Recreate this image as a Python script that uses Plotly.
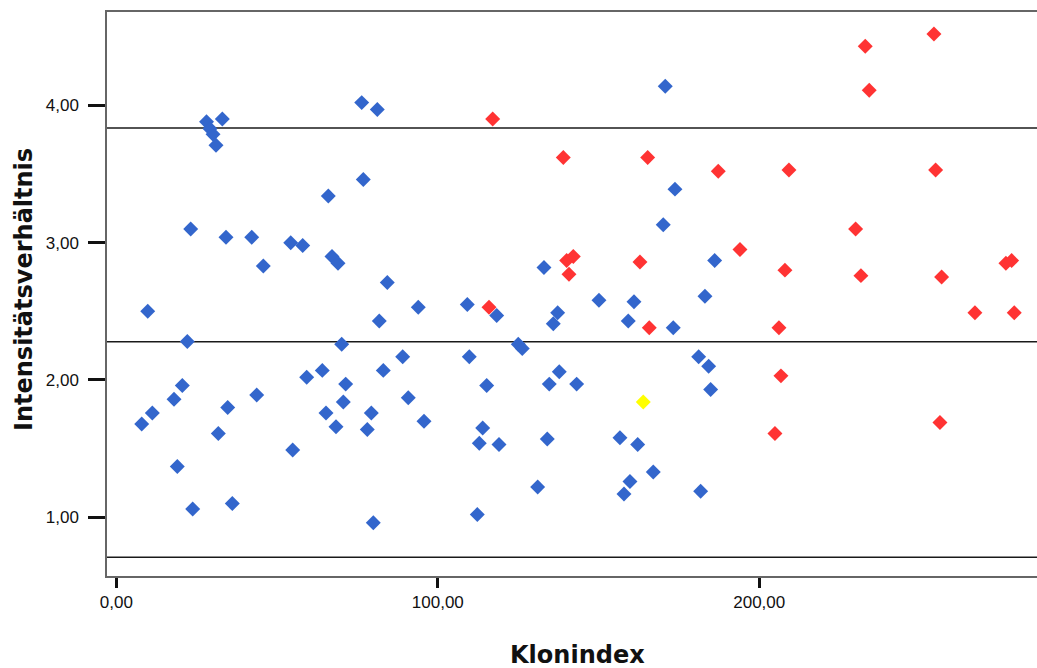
import plotly.graph_objects as go

# Klonindex / Intensitätsverhältnis per clone group
blue_x = [9.77, 22.08, 7.90, 11.20, 17.95, 20.53, 18.97, 23.76, 23.14, 28.06,
          29.14, 30.08, 31.01, 32.97, 31.73, 34.12, 34.65, 36.08, 42.12, 43.67,
          45.72, 54.25, 57.98, 54.87, 59.22, 64.07, 65.94, 65.23, 67.09, 68.96,
          68.34, 70.11, 70.61, 71.35, 76.33, 76.83, 78.07, 79.32, 79.94, 81.18,
          81.80, 83.05, 84.29, 89.08, 90.82, 93.93, 95.71, 109.18, 109.80, 118.32,
          115.21, 113.97, 112.91, 119.04, 112.29, 125.04, 126.28, 131.07, 133.03, 134.06,
          134.68, 135.93, 137.29, 137.79, 143.20, 150.14, 156.67, 157.92, 159.78, 159.25,
          161.03, 162.18, 167.03, 170.14, 170.76, 173.25, 173.78, 181.15, 181.77, 183.11,
          184.26, 184.88, 186.13]
blue_y = [2.50, 2.28, 1.68, 1.76, 1.86, 1.96, 1.37, 1.06, 3.10, 3.88,
          3.83, 3.79, 3.71, 3.90, 1.61, 3.04, 1.80, 1.10, 3.04, 1.89,
          2.83, 3.00, 2.98, 1.49, 2.02, 2.07, 3.34, 1.76, 2.90, 2.85,
          1.66, 2.26, 1.84, 1.97, 4.02, 3.46, 1.64, 1.76, 0.96, 3.97,
          2.43, 2.07, 2.71, 2.17, 1.87, 2.53, 1.70, 2.55, 2.17, 2.47,
          1.96, 1.65, 1.54, 1.53, 1.02, 2.26, 2.23, 1.22, 2.82, 1.57,
          1.97, 2.41, 2.49, 2.06, 1.97, 2.58, 1.58, 1.17, 1.26, 2.43,
          2.57, 1.53, 1.33, 3.13, 4.14, 2.38, 3.39, 2.17, 1.19, 2.61,
          2.10, 1.93, 2.87]

red_x = [117.08, 115.93, 139.04, 140.09, 142.15, 140.81, 165.29, 162.89, 165.79, 187.25,
         194.00, 206.13, 204.88, 206.75, 207.99, 209.24, 229.98, 231.63, 232.97, 234.21,
         254.34, 254.87, 256.21, 256.73, 267.09, 276.73, 278.51, 279.32]
red_y = [3.90, 2.53, 3.62, 2.87, 2.90, 2.77, 3.62, 2.86, 2.38, 3.52,
         2.95, 2.38, 1.61, 2.03, 2.80, 3.53, 3.10, 2.76, 4.43, 4.11,
         4.52, 3.53, 1.69, 2.75, 2.49, 2.85, 2.87, 2.49]

yellow_x = [163.92]
yellow_y = [1.84]

# Reference levels (upper bound, mean, lower bound)
ref_levels = [3.835, 2.279, 0.709]

x_ticks = [0, 100, 200]
y_ticks = [1, 2, 3, 4]

marker_common = dict(symbol="diamond", size=11.5, line=dict(width=0))

fig = go.Figure()
fig.add_trace(go.Scatter(x=blue_x, y=blue_y, mode="markers",
                         marker=dict(color="#3366CC", **marker_common)))
fig.add_trace(go.Scatter(x=red_x, y=red_y, mode="markers",
                         marker=dict(color="#FF3333", **marker_common)))
fig.add_trace(go.Scatter(x=yellow_x, y=yellow_y, mode="markers",
                         marker=dict(color="#FFFF00", **marker_common)))

for lvl in ref_levels:
    fig.add_shape(type="line", xref="paper", x0=0, x1=1, yref="y", y0=lvl, y1=lvl,
                  line=dict(color="#1a1a1a", width=1.6), layer="below")

tick_font = dict(family="Liberation Sans, Arial, sans-serif", size=17, color="#111")
title_font = dict(family="DejaVu Sans, Verdana, sans-serif", size=24, color="#111")

fig.update_layout(
    width=1037, height=668,
    margin=dict(l=107, r=0, t=12, b=92),
    paper_bgcolor="white", plot_bgcolor="white",
    showlegend=False,
    separators=",.",
    xaxis=dict(range=[-2.9, 286.4], tickvals=x_ticks, tickformat=".2f",
               showgrid=False, zeroline=False,
               showline=True, mirror=True, linecolor="#666", linewidth=1.5,
               ticks="outside", ticklen=10, tickwidth=3, tickcolor="#111",
               tickfont=tick_font),
    yaxis=dict(range=[0.5725, 4.68], tickvals=y_ticks, tickformat=".2f",
               showgrid=False, zeroline=False,
               showline=True, mirror=False, linecolor="#666", linewidth=1.5,
               ticks="outside", ticklen=17, tickwidth=3, tickcolor="#111",
               ticklabelstandoff=6,
               tickfont=tick_font),
    annotations=[
        dict(text="<b>Klonindex</b>", xref="paper", yref="paper",
             x=(577 - 107) / 930, y=-(655 - 576) / 564, xanchor="center", yanchor="middle",
             showarrow=False, font=title_font),
        dict(text="<b>Intensitätsverhältnis</b>", xref="paper", yref="paper",
             x=-(107 - 24) / 930, y=(576 - 290) / 564, xanchor="center", yanchor="middle",
             textangle=-90, showarrow=False, font=title_font),
    ],
)

fig.write_html("out.html")
